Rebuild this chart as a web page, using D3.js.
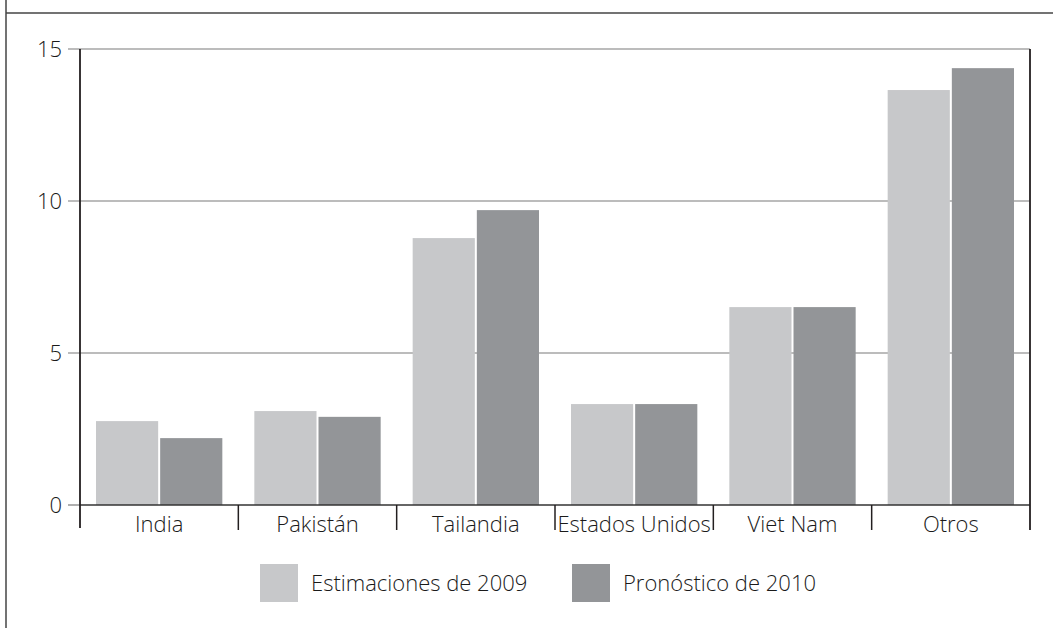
<!DOCTYPE html>
<html>
<head>
<meta charset="utf-8">
<script src="https://cdn.jsdelivr.net/npm/d3@7"></script>
<style>
  body { margin: 0; background: #fff; }
  svg text { font-family: "Open Sans", "Noto Sans", sans-serif; font-weight: 300; fill: #1a1a1a; }
</style>
</head>
<body>
<div id="chart"></div>
<script>
  // Data
  const categories = ['India', 'Pakistán', 'Tailandia', 'Estados Unidos', 'Viet Nam', 'Otros'];
  const estimaciones2009 = [2.76, 3.09, 8.78, 3.32, 6.51, 13.65];
  const pronostico2010 = [2.2, 2.9, 9.7, 3.32, 6.51, 14.37];
  const seriesNames = ['Estimaciones de 2009', 'Pronóstico de 2010'];
  const yTicks = [0, 5, 10, 15];

  const colors = ['#c7c8ca', '#939598'];

  const width = 1053;
  const height = 628;
  const margin = { top: 49, right: 23, bottom: 123, left: 80 };
  const plotW = width - margin.left - margin.right;
  const plotH = height - margin.top - margin.bottom;
  const fontSize = 22;

  const svg = d3.select('#chart')
                .append('svg')
                .attr('width', width)
                .attr('height', height);

  // outer frame
  svg.append('line')
     .attr('x1', 6).attr('x2', 6).attr('y1', 0).attr('y2', height)
     .attr('stroke', '#444').attr('stroke-width', 1.5);
  svg.append('line')
     .attr('x1', 6).attr('x2', width).attr('y1', 13).attr('y2', 13)
     .attr('stroke', '#444').attr('stroke-width', 1.5);

  const g = svg.append('g').attr('transform', `translate(${margin.left},${margin.top})`);

  const x = d3.scaleBand().domain(categories).range([0, plotW]).paddingInner(0).paddingOuter(0);
  const x1 = d3.scaleBand().domain(seriesNames).range([16, x.bandwidth() - 16]).padding(0);
  const y = d3.scaleLinear().domain([0, 15]).range([plotH, 0]);

  // gridlines + left ticks
  g.selectAll('line.grid')
   .data(yTicks.filter(d => d > 0))
   .enter()
   .append('line')
   .attr('class', 'grid')
   .attr('x1', -12).attr('x2', plotW)
   .attr('y1', d => y(d)).attr('y2', d => y(d))
   .attr('stroke', '#7a7a7a').attr('stroke-width', 1.2);

  g.append('line')
   .attr('x1', -12).attr('x2', 0).attr('y1', y(0)).attr('y2', y(0))
   .attr('stroke', '#7a7a7a').attr('stroke-width', 1.2);

  g.selectAll('text.ytick')
   .data(yTicks)
   .enter()
   .append('text')
   .attr('class', 'ytick')
   .attr('x', -18)
   .attr('y', d => y(d))
   .attr('dy', '0.35em')
   .attr('text-anchor', 'end')
   .attr('font-size', fontSize)
   .text(d => d);

  // bars
  const series = [estimaciones2009, pronostico2010];
  series.forEach((values, si) => {
    g.selectAll(`rect.s${si}`)
     .data(categories)
     .enter()
     .append('rect')
     .attr('class', `s${si}`)
     .attr('x', d => x(d) + x1(seriesNames[si]) + (si === 1 ? 1 : 0))
     .attr('width', x1.bandwidth() - 1)
     .attr('y', (d, i) => y(values[i]))
     .attr('height', (d, i) => y(0) - y(values[i]))
     .attr('fill', colors[si]);
  });

  // axes frame
  g.append('line')
   .attr('x1', 0).attr('x2', plotW).attr('y1', y(0)).attr('y2', y(0))
   .attr('stroke', '#333').attr('stroke-width', 1.5);
  g.append('line')
   .attr('x1', 0).attr('x2', 0).attr('y1', 0).attr('y2', y(0) + 23)
   .attr('stroke', '#231f20').attr('stroke-width', 1.8);
  g.append('line')
   .attr('x1', plotW).attr('x2', plotW).attr('y1', 0).attr('y2', y(0) + 25)
   .attr('stroke', '#231f20').attr('stroke-width', 1.8);

  // category separators
  g.selectAll('line.sep')
   .data(categories.slice(1))
   .enter()
   .append('line')
   .attr('class', 'sep')
   .attr('x1', d => x(d)).attr('x2', d => x(d))
   .attr('y1', y(0)).attr('y2', y(0) + 25)
   .attr('stroke', '#231f20').attr('stroke-width', 1.5);

  g.selectAll('text.cat')
   .data(categories)
   .enter()
   .append('text')
   .attr('class', 'cat')
   .attr('x', d => x(d) + x.bandwidth() / 2)
   .attr('y', y(0) + 27)
   .attr('text-anchor', 'middle')
   .attr('font-size', fontSize)
   .text(d => d);

  // legend
  const legendX = [260, 572];
  const legend = svg.selectAll('g.legend')
                    .data(seriesNames)
                    .enter()
                    .append('g')
                    .attr('class', 'legend')
                    .attr('transform', (d, i) => `translate(${legendX[i]},564)`);

  legend.append('rect')
        .attr('width', 38).attr('height', 38)
        .attr('fill', (d, i) => colors[i]);

  legend.append('text')
        .attr('x', 51).attr('y', 19).attr('dy', '0.35em')
        .attr('font-size', fontSize)
        .text(d => d);
</script>
</body>
</html>
